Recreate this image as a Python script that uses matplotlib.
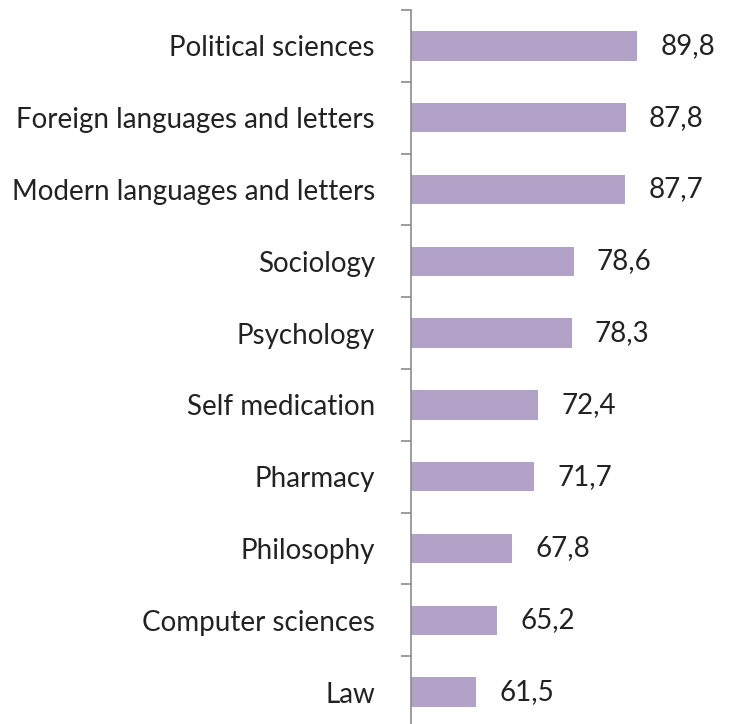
import matplotlib.pyplot as plt
from matplotlib.ticker import FixedLocator

categories = ["Political sciences", "Foreign languages and letters",
              "Modern languages and letters", "Sociology", "Psychology",
              "Self medication", "Pharmacy", "Philosophy",
              "Computer sciences", "Law"]
values = [89.8, 87.8, 87.7, 78.6, 78.3, 72.4, 71.7, 67.8, 65.2, 61.5]

plt.rcParams['font.family'] = ['Lato', 'DejaVu Sans']

fig = plt.figure(figsize=(7.37, 7.24), dpi=100)
# axes placed so the category axis spans from the top down past the bottom edge
ax = fig.add_axes([411 / 737, -4 / 724, 326 / 737, 718 / 724])

n = len(categories)
pos = list(range(n))[::-1]
ax.barh(pos, values, left=0, height=0.41, color="#B3A2C7")
ax.set_xlim(50, 107.3)
ax.set_ylim(-0.5, n - 0.5)

for y, v in zip(pos, values):
    ax.text(v + 4.0, y, f"{v:.1f}".replace(".", ","), va="center", ha="left",
            fontsize=20, color="#222222")

ax.set_yticks(pos)
ax.set_yticklabels(categories, fontsize=20, color="#222222")
ax.tick_params(axis="y", which="major", length=0, pad=26)
ax.yaxis.set_minor_locator(FixedLocator([p + 0.5 for p in range(n)]))
ax.tick_params(axis="y", which="minor", length=7, width=1.2, color="#8c8c8c")
ax.set_xticks([])

for side in ["top", "right", "bottom"]:
    ax.spines[side].set_visible(False)
ax.spines["left"].set_color("#8c8c8c")
ax.spines["left"].set_linewidth(1.2)

plt.savefig("out.png", dpi=100)
